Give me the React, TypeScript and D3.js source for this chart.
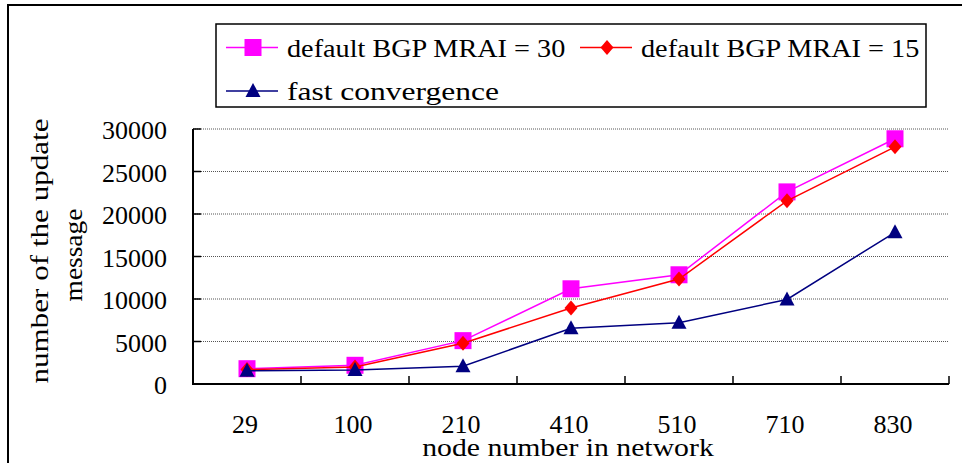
import React from "react";
import * as d3 from "d3";

const categories = ["29", "100", "210", "410", "510", "710", "830"];
const mrai30 = [1800, 2200, 5100, 11200, 12850, 22600, 28850];
const mrai15 = [1700, 2000, 4800, 8950, 12350, 21550, 27900];
const fastConv = [1550, 1650, 2100, 6550, 7200, 9950, 17850];
const yTicks = [0, 5000, 10000, 15000, 20000, 25000, 30000];
const seriesNames = ["default BGP MRAI = 30", "default BGP MRAI = 15", "fast convergence"];

const W = 962;
const H = 463;
const FONT = "'Liberation Serif', 'DejaVu Serif', serif";
const FS = 26;
const CW = 13.25;

function Marker({ kind, x, y, color }: { kind: string; x: number; y: number; color: string }) {
  if (kind === "square") {
    return <rect x={x - 8.5} y={y - 8.5} width={17} height={17} fill={color} />;
  }
  if (kind === "diamond") {
    return (
      <path
        d={`M${x},${y - 7.5}L${x + 6.5},${y}L${x},${y + 7.5}L${x - 6.5},${y}Z`}
        fill={color}
      />
    );
  }
  return (
    <path d={`M${x},${y - 8}L${x + 7.5},${y + 6}L${x - 7.5},${y + 6}Z`} fill={color} />
  );
}

function T({ x, y, text, anchor = "start", mono = true, transform }: any) {
  const len = text.length * CW;
  return (
    <text
      x={x}
      y={y}
      fontFamily={FONT}
      fontSize={FS}
      fill="#000"
      textAnchor={anchor}
      transform={transform}
      {...(mono ? { textLength: len, lengthAdjust: "spacingAndGlyphs" } : {})}
    >
      {text}
    </text>
  );
}

export default function App() {
  const x = d3.scaleBand<string>().domain(categories).range([193, 949]).padding(0);
  const y = d3.scaleLinear().domain([0, 30000]).range([384, 129]);
  const cx = (c: string) => (x(c) as number) + x.bandwidth() / 2;
  const line = d3
    .line<number>()
    .x((_, i) => cx(categories[i]))
    .y((v) => y(v));

  const series = [
    { name: seriesNames[0], data: mrai30, color: "#FF00FF", kind: "square" },
    { name: seriesNames[1], data: mrai15, color: "#FF0000", kind: "diamond" },
    { name: seriesNames[2], data: fastConv, color: "#000080", kind: "triangle" },
  ];

  const boundaries = [...categories.map((c) => x(c) as number), 949];

  const legendItems = [
    { s: series[0], lx: 226, ly: 47.5, tx: 287 },
    { s: series[1], lx: 580, ly: 47.5, tx: 641 },
    { s: series[2], lx: 226, ly: 91, tx: 287 },
  ];

  return (
    <svg
      width={W}
      height={H}
      style={{ position: "fixed", left: 0, top: 0, display: "block", background: "#fff" }}
    >
      <rect x={0} y={0} width={W} height={H} fill="#fff" />
      {/* outer frame */}
      <path d={`M8,${H}V5H${W}`} fill="none" stroke="#000" strokeWidth={2} />

      {/* gridlines */}
      {yTicks
        .filter((t) => t > 0)
        .map((t) => (
          <line
            key={"g" + t}
            x1={193}
            x2={949}
            y1={y(t)}
            y2={y(t)}
            stroke="#555"
            strokeWidth={1}
            strokeDasharray="1,1"
          />
        ))}

      {/* axes */}
      <line x1={193} x2={193} y1={y(30000)} y2={y(0) + 1} stroke="#000" strokeWidth={2} />
      <line x1={192} x2={949} y1={y(0)} y2={y(0)} stroke="#000" strokeWidth={2} />
      {yTicks.map((t) => (
        <line key={"yt" + t} x1={193} x2={201} y1={y(t)} y2={y(t)} stroke="#000" strokeWidth={1.5} />
      ))}
      {boundaries.map((b, i) => (
        <line key={"xt" + i} x1={b} x2={b} y1={y(0)} y2={y(0) - 8} stroke="#000" strokeWidth={1.5} />
      ))}

      {/* y tick labels */}
      {yTicks.map((t) => (
        <T key={"yl" + t} x={167} y={y(t) + 10} text={String(t)} anchor="end" mono={false} />
      ))}

      {/* x tick labels */}
      {categories.map((c) => (
        <T key={"xl" + c} x={cx(c) - 2} y={433} text={c} anchor="middle" mono={false} />
      ))}

      {/* axis titles */}
      <T x={568} y={456} text="node number in network" anchor="middle" />
      <T x={0} y={0} text="number of the update" anchor="middle" transform="translate(48,251) rotate(-90)" />
      <T x={0} y={0} text="message" anchor="middle" transform="translate(82,255) rotate(-90)" />

      {/* series */}
      {series.map((s) => (
        <g key={s.name}>
          <path d={line(s.data) || ""} fill="none" stroke={s.color} strokeWidth={1.5} />
          {s.data.map((v, i) => (
            <Marker key={i} kind={s.kind} x={cx(categories[i])} y={y(v)} color={s.color} />
          ))}
        </g>
      ))}

      {/* legend */}
      <rect x={216} y={24} width={710} height={83} fill="#fff" stroke="#000" strokeWidth={1.5} />
      {legendItems.map(({ s, lx, ly, tx }) => (
        <g key={"lg" + s.name}>
          <line x1={lx} x2={lx + 52} y1={ly} y2={ly} stroke={s.color} strokeWidth={1.5} />
          <Marker kind={s.kind} x={lx + 27} y={ly} color={s.color} />
          <T x={tx} y={ly + 9} text={s.name} />
        </g>
      ))}
    </svg>
  );
}
